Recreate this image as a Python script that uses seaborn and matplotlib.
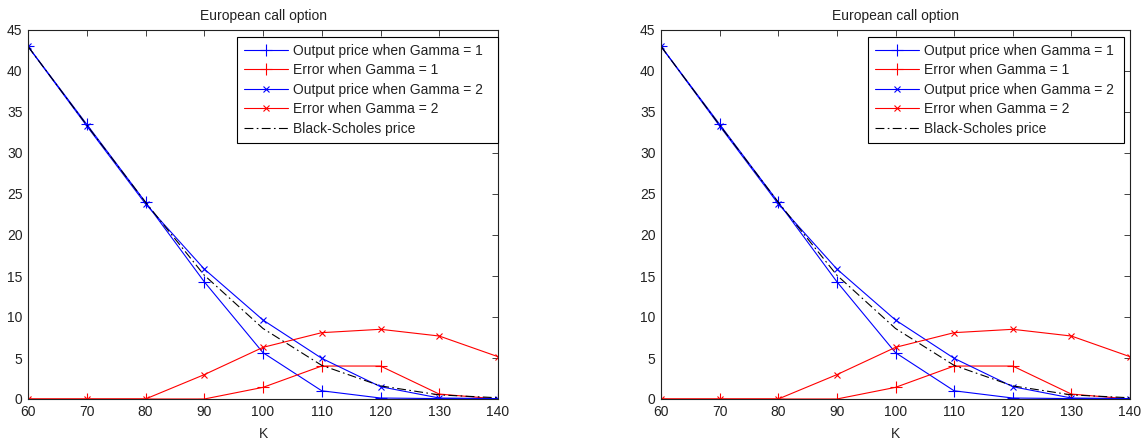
import matplotlib
matplotlib.use("Agg")
import matplotlib.pyplot as plt
import seaborn as sns

# Strike prices
K = [60, 70, 80, 90, 100, 110, 120, 130, 140]

# Option prices and errors for the two Gamma settings
price_gamma1 = [43.0, 33.5, 24.0, 14.3, 5.65, 1.0, 0.12, 0.05, 0.0]
error_gamma1 = [0.0, 0.0, 0.0, 0.0, 1.42, 4.02, 4.02, 0.6, 0.0]
price_gamma2 = [43.0, 33.3, 23.8, 15.85, 9.63, 4.96, 1.5, 0.12, 0.05]
error_gamma2 = [0.0, 0.0, 0.0, 2.97, 6.3, 8.09, 8.5, 7.68, 5.16]
bs_price = [43.0, 33.4, 24.0, 15.1, 8.6, 4.1, 1.6, 0.5, 0.15]

labels = [
    "Output price when Gamma = 1",
    "Error when Gamma = 1",
    "Output price when Gamma = 2",
    "Error when Gamma = 2",
    "Black-Scholes price",
]

sns.set_theme(style="white")
plt.rcParams["font.family"] = ["Liberation Sans", "DejaVu Sans"]
plt.rcParams["text.color"] = "#222222"
plt.rcParams["xtick.color"] = "#222222"
plt.rcParams["ytick.color"] = "#222222"

FS = 10

fig = plt.figure(figsize=(11.46, 4.41), dpi=100)
W, H = 1146.0, 441.0
ax_boxes = [(28, 498), (661, 1130)]
top_px, bot_px = 30, 399

series = [
    (price_gamma1, "blue", "+", 8),
    (error_gamma1, "red", "+", 8),
    (price_gamma2, "blue", "x", 4),
    (error_gamma2, "red", "x", 4),
]

# legend boxes (x0, width) in axes fraction
legend_boxes = [(0.4447, 0.5547), (0.4407, 0.5471)]

for i, (x0, x1) in enumerate(ax_boxes):
    ax = fig.add_axes([x0 / W, (H - bot_px) / H, (x1 - x0) / W, (bot_px - top_px) / H])
    for (vals, col, mk, ms), lab in zip(series, labels[:4]):
        sns.lineplot(x=K, y=vals, ax=ax, color=col, marker=mk, markersize=ms,
                     markeredgecolor=col, markeredgewidth=0.8, linewidth=0.8,
                     label=lab)
    sns.lineplot(x=K, y=bs_price, ax=ax, color="black", linewidth=0.8,
                 label=labels[4])
    ax.lines[-1].set_linestyle((0, (8, 3, 1.5, 3)))

    ax.set_xlim(60, 140)
    ax.set_ylim(0, 45)
    ax.set_xticks(list(range(60, 141, 10)))
    ax.set_yticks(list(range(0, 46, 5)))
    ax.tick_params(direction="in", length=4, width=0.6, labelsize=FS,
                   top=True, right=True, pad=4)
    for s in ax.spines.values():
        s.set_visible(True)
        s.set_color("#222222")
        s.set_linewidth(0.8)
    ax.set_title("European call option", fontsize=FS, pad=7)
    ax.set_xlabel("K", fontsize=FS, labelpad=6)
    ax.set_ylabel("")

    lx, lw = legend_boxes[i]
    handles, labs = ax.get_legend_handles_labels()
    leg = ax.legend(handles, labs, loc="upper left", mode="expand",
                    bbox_to_anchor=(lx, 0.0, lw, 0.982), borderaxespad=0,
                    fontsize=FS, frameon=True, fancybox=False,
                    edgecolor="black", framealpha=1, handlelength=3.2,
                    handletextpad=0.35, labelspacing=0.4, borderpad=0.5)
    leg.get_frame().set_linewidth(0.8)

fig.savefig("out.png", dpi=100)
